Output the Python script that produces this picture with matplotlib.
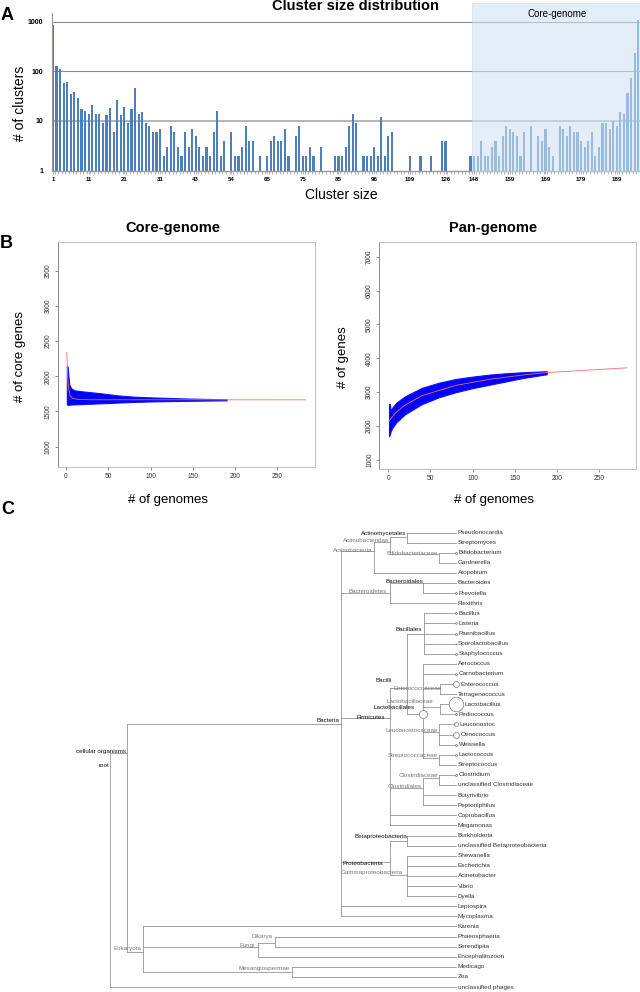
import numpy as np
import matplotlib
matplotlib.use("Agg")
import matplotlib.pyplot as plt
import matplotlib.transforms as mtrans
from matplotlib.patches import Rectangle
from matplotlib.ticker import NullLocator

plt.rcParams['font.family'] = ['Liberation Sans', 'DejaVu Sans']

W, H = 640, 992

# ---------------- panel A : cluster size distribution ----------------
cluster_counts = [
    870, 129, 112, 58, 60, 35, 38, 29, 17, 16,
    14, 21, 14, 14, 9, 13, 18, 6, 27, 13,
    19, 9, 17, 46, 14, 15, 9, 8, 6, 6,
    7, 2, 3, 8, 6, 3, 2, 6, 3, 7,
    5, 3, 2, 3, 2, 6, 16, 2, 4, 1,
    6, 2, 2, 3, 8, 4, 4, 1, 2, 1,
    2, 4, 5, 4, 4, 7, 2, 1, 5, 8,
    2, 2, 3, 2, 1, 3, 1, 1, 1, 2,
    2, 2, 3, 8, 14, 9, 1, 2, 2, 2,
    3, 2, 12, 2, 5, 6, 1, 1, 1, 1,
    2, 1, 1, 2, 1, 1, 2, 1, 1, 4,
    4, 1, 1, 1, 1, 1, 1,
    2, 2, 2, 4, 2, 2, 3, 4, 2, 5,
    8, 7, 6, 5, 2, 6, 1, 8, 1, 5,
    4, 7, 3, 2, 1, 8, 7, 5, 8, 6,
    6, 4, 3, 4, 6, 2, 3, 9, 9, 7,
    10, 8, 15, 14, 37, 72, 232, 1100,
]
size_labels = ['1', '11', '21', '31', '43', '54', '65', '75', '85', '96',
               '109', '126', '148', '159', '169', '179', '189']
size_label_bar = [0, 10, 20, 30, 40, 50, 60, 70, 80, 90, 100, 110,
                  118, 128, 138, 148, 158]
core_first_bar = 118

# ---------------- panel B : core / pan genome curves ----------------
core_n = [1, 2, 3, 4, 6, 10, 20, 40, 60, 80, 100, 140, 190]
core_hi = [2150, 2130, 1990, 1880, 1830, 1800, 1785, 1760, 1730, 1710, 1700, 1685, 1672]
core_lo = [1600, 1595, 1595, 1595, 1598, 1600, 1605, 1615, 1625, 1635, 1642, 1650, 1658]
core_fit_n = [1, 2, 3, 5, 8, 15, 30, 283]
core_fit = [2340, 1990, 1830, 1720, 1685, 1670, 1666, 1665]

pan_n = [1, 2, 3, 5, 10, 20, 40, 60, 80, 100, 120, 140, 160, 188]
pan_hi = [2650, 2650, 2450, 2550, 2700, 2880, 3130, 3280, 3390, 3460, 3520, 3560, 3590, 3620]
pan_lo = [1700, 1750, 1850, 1950, 2120, 2350, 2650, 2850, 3000, 3120, 3220, 3320, 3420, 3530]
pan_fit_n = [1, 5, 10, 20, 40, 80, 120, 160, 188, 283]
pan_fit = [2150, 2280, 2420, 2620, 2900, 3200, 3380, 3510, 3580, 3720]

# ---------------- panel C : taxonomy tree ----------------
node_names = ['root', 'cellular organisms', 'Bacteria', 'Actinobacteria', 'Actinobacteridae',
              'Actinomycetales', 'Bifidobacteriaceae', 'Bacteroidetes', 'Bacteroidales',
              'Firmicutes', 'Bacilli', 'Bacillales', 'Lactobacillales', 'Enterococcaceae',
              'Lactobacillaceae', 'Leuconostocaceae', 'Streptococcaceae', 'Clostridiales',
              'Clostridiaceae', 'Proteobacteria', 'Betaproteobacteria', 'Gammaproteobacteria',
              'Eukaryota', 'Fungi', 'Dikarya', 'Mesangiospermae']
node_parent = [None, 0, 1, 2, 3, 4, 4, 2, 7, 2, 9, 10, 10, 12, 12, 12, 12, 9, 17,
               2, 19, 19, 1, 22, 23, 22]
node_depth = [110.3, 126.7, 340.7, 374, 390, 406.7, 439.3, 390, 423.3, 390, 406.7, 424,
              423.3, 440, 440, 439.3, 439.3, 423.3, 439.3, 390, 406.7, 406.7, 142.7,
              258.3, 275.3, 291.7]
node_row = [23.1, 21.8, 19.0, 1.8, 0.9, 0.4, 2.1, 6.0, 5.0, 18.4, 15.4, 10.0, 18.0,
            15.4, 17.3, 19.8, 22.3, 25.3, 24.3, 32.6, 30.5, 33.9, 41.5, 41.07, 40.6, 43.5]
node_dark = [1, 1, 1, 0, 0, 1, 0, 0, 1, 1, 1, 1, 1, 0, 0, 0, 0, 0, 0, 1, 1, 0, 0, 0, 0, 0]
node_circle = {12: 4.0}

leaf_names = ['Pseudonocardia', 'Streptomyces', 'Bifidobacterium', 'Gardnerella', 'Atopobium',
              'Bacteroides', 'Prevotella', 'Flexithrix', 'Bacillus', 'Listeria',
              'Paenibacillus', 'Sporolactobacillus', 'Staphylococcus', 'Aerococcus',
              'Carnobacterium', 'Enterococcus', 'Tetragenococcus', 'Lactobacillus',
              'Pediococcus', 'Leuconostoc', 'Oenococcus', 'Weissella', 'Lactococcus',
              'Streptococcus', 'Clostridium', 'unclassified Clostridiaceae', 'Butyrivibrio',
              'Peptoniphilus', 'Coprobacillus', 'Megamonas', 'Burkholderia',
              'unclassified Betaproteobacteria', 'Shewanella', 'Escherichia', 'Acinetobacter',
              'Vibrio', 'Dyella', 'Leptospira', 'Mycoplasma', 'Karenia', 'Phaeosphaeria',
              'Serendipita', 'Encephalitozoon', 'Medicago', 'Zea', 'unclassified phages']
leaf_parent = [5, 5, 6, 6, 3, 8, 8, 7, 11, 11, 11, 11, 11, 12, 12, 13, 13, 14, 14,
               15, 15, 15, 16, 16, 18, 18, 17, 17, 9, 9, 20, 20, 21, 21, 21, 21, 21,
               2, 2, 22, 24, 24, 23, 25, 25, 0]
leaf_circle = [0, 0, 1, 0, 0, 0, 1, 0, 1, 0.8, 1, 0.6, 1, 0, 1, 3, 0, 7.3, 1,
               2, 3, 1, 1, 0, 1, 0, 0, 0, 0, 0, 0, 0, 0, 0, 0, 0, 0, 0, 0, 0, 0,
               0, 0, 0, 0, 0]

# where the internal-node labels sit (right end in px, row)
label_end = [109, 126, 339, 372, 389, 406, 438, 387, 423, 385, 392, 422, 415, 442,
             433, 438, 438, 422, 438, 383, 407, 403, 142, 255, 273, 290]
label_row = [23.1, 21.7, 18.6, 1.8, 0.84, 0.05, 2.06, 5.86, 4.87, 18.3, 14.7, 9.58,
             17.35, 15.4, 16.7, 19.6, 22.1, 25.1, 24.1, 32.75, 30.1, 33.7, 41.2,
             40.9, 40.0, 43.2]


def fx(px):
    return px / W


def fy(py):
    return 1 - py / H


fig = plt.figure(figsize=(W / 100, H / 100), dpi=100)

# ======== A ========
axA = fig.add_axes([fx(51.5), fy(170.5), fx(640) - fx(51.5), (170.5 - 13) / H])
axA.set_yscale('log')
bars_x = np.arange(len(cluster_counts))
axA.bar(bars_x, cluster_counts, width=0.6, color='#4d7fbf', zorder=2)
axA.set_xlim(-0.42, len(cluster_counts) - 0.6)
axA.set_ylim(1, 1500)
for v, c, lw in [(10, '#b4b4b4', 1.4), (100, '#8a8a8a', 0.8), (1000, '#8a8a8a', 0.8)]:
    axA.axhline(v, color=c, lw=lw, zorder=1)
axA.set_yticks([1, 10, 100, 1000])
axA.set_yticklabels(['1', '10', '100', '1000'], fontweight='bold', fontsize=5)
axA.yaxis.set_minor_locator(NullLocator())
axA.tick_params(axis='y', length=0, pad=6)
axA.set_xticks(size_label_bar)
axA.set_xticklabels(size_labels, fontweight='bold', fontsize=4.4)
axA.set_xticks(bars_x + 0.5, minor=True)
axA.tick_params(axis='x', which='both', length=2, width=0.5, color='#999999', pad=3)
for s in ['top', 'right']:
    axA.spines[s].set_visible(False)
axA.spines['left'].set_color('#999999')
axA.spines['left'].set_linewidth(0.8)
axA.spines['bottom'].set_color('#999999')
axA.spines['bottom'].set_linewidth(1.0)

blend = mtrans.blended_transform_factory(axA.transData, axA.transAxes)
shade_left = core_first_bar - 0.5
axA.add_patch(Rectangle((shade_left, 0), len(cluster_counts) - shade_left, 1.064,
                        transform=blend, facecolor='#cfe2f3', alpha=0.6,
                        edgecolor='#bcd5ea', lw=0.6, clip_on=False, zorder=3))
axA.text((shade_left + len(cluster_counts)) / 2, 0.995, 'Core-genome', transform=blend,
         ha='center', va='center', fontsize=7, zorder=4)

fig.text(fx(355), fy(6.5), 'Cluster size distribution', ha='center', va='center',
         fontsize=10.5, fontweight='bold')
fig.text(fx(341), fy(195), 'Cluster size', ha='center', va='center', fontsize=10)
fig.text(fx(20), fy(103), '# of clusters', ha='center', va='center', fontsize=10,
         rotation=90)
fig.text(fx(7.5), fy(15.5), 'A', ha='center', va='center', fontsize=13, fontweight='bold')


# ======== B ========
def style_b(ax, yticks):
    ax.set_xticks([0, 50, 100, 150, 200, 250])
    ax.set_yticks(yticks)
    ax.tick_params(length=2.5, width=0.5, color='#666666', labelsize=4.8,
                   labelcolor='#333333', pad=2)
    for lab in ax.get_yticklabels():
        lab.set_rotation(90)
        lab.set_va('center')
    for s in ax.spines.values():
        s.set_color('#b4b4c8')
        s.set_linewidth(0.6)
    ax.spines['left'].set_color('#777777')


axC1 = fig.add_axes([fx(57.7), fy(466.7), fx(315) - fx(57.7), 225 / H])
axC1.fill_between(core_n, core_lo, core_hi, color='#0000ff', lw=0.8, edgecolor='#1010ff')
axC1.plot(core_fit_n, core_fit, color='#ff6a6a', lw=0.6)
axC1.set_xlim(-9.8, 294.6)
axC1.set_ylim(714, 3914)
style_b(axC1, [1000, 1500, 2000, 2500, 3000, 3500])

axP = fig.add_axes([fx(379.3), fy(469), fx(636) - fx(379.3), 227.3 / H])
axP.fill_between(pan_n, pan_lo, pan_hi, color='#0000ff', lw=0.8, edgecolor='#1010ff')
axP.plot(pan_fit_n, pan_fit, color='#ff6a6a', lw=0.6)
axP.set_xlim(-10.5, 293.8)
axP.set_ylim(735, 7441)
style_b(axP, [1000, 2000, 3000, 4000, 5000, 6000, 7000])

fig.text(fx(173), fy(228.3), 'Core-genome', ha='center', va='center', fontsize=10.5,
         fontweight='bold')
fig.text(fx(493), fy(228.3), 'Pan-genome', ha='center', va='center', fontsize=10.5,
         fontweight='bold')
fig.text(fx(168), fy(500), '# of genomes', ha='center', va='center', fontsize=9.5)
fig.text(fx(494), fy(500), '# of genomes', ha='center', va='center', fontsize=9.5)
fig.text(fx(20), fy(356.7), '# of core genes', ha='center', va='center', fontsize=9.5,
         rotation=90)
fig.text(fx(343.3), fy(356.7), '# of genes', ha='center', va='center', fontsize=9.5,
         rotation=90)
fig.text(fx(6.5), fy(243.5), 'B', ha='center', va='center', fontsize=13, fontweight='bold')

# ======== C ========
row_px, row0_px = 10.1, 532.5
axT = fig.add_axes([0, 0, 1, (H - 510) / H])
axT.set_xlim(0, W)
axT.set_ylim((H - row0_px) / row_px, (510 - row0_px) / row_px)
axT.axis('off')

line_c = '#8c8c8c'
leaf_end = 456
children = {i: [] for i in range(len(node_names))}
for i, p in enumerate(node_parent):
    if p is not None:
        children[p].append(node_row[i])
for j, p in enumerate(leaf_parent):
    children[p].append(j)

# vertical connectors
for i, rows in children.items():
    if rows:
        axT.plot([node_depth[i], node_depth[i]], [min(rows), max(rows)], color=line_c, lw=0.55)
# internal branches
for i, p in enumerate(node_parent):
    if p is not None:
        axT.plot([node_depth[p], node_depth[i]], [node_row[i], node_row[i]], color=line_c, lw=0.55)
# leaf branches
for j, p in enumerate(leaf_parent):
    axT.plot([node_depth[p], leaf_end], [j, j], color=line_c, lw=0.55)

# node labels
for i, name in enumerate(node_names):
    axT.text(label_end[i], label_row[i], name, ha='right', va='center',
             fontsize=4.5, color='#111111' if node_dark[i] else '#777777')
for i, r in node_circle.items():
    axT.scatter([node_depth[i]], [node_row[i]], s=(2 * r * 0.72) ** 2, facecolor='white',
                edgecolor='#777777', lw=0.5, zorder=5)

# leaves
for j, name in enumerate(leaf_names):
    r = leaf_circle[j]
    if r > 0:
        axT.scatter([leaf_end - 0.5], [j], s=(2 * r * 0.72) ** 2, facecolor='white',
                    edgecolor='#777777', lw=0.5, zorder=5)
        tx = leaf_end - 0.5 + r + 2
    else:
        tx = 458
    axT.text(tx, j, name, ha='left', va='center', fontsize=4.6, color='#333333')

fig.text(fx(8), fy(510), 'C', ha='center', va='center', fontsize=13, fontweight='bold')

fig.savefig('out.png', dpi=100)
